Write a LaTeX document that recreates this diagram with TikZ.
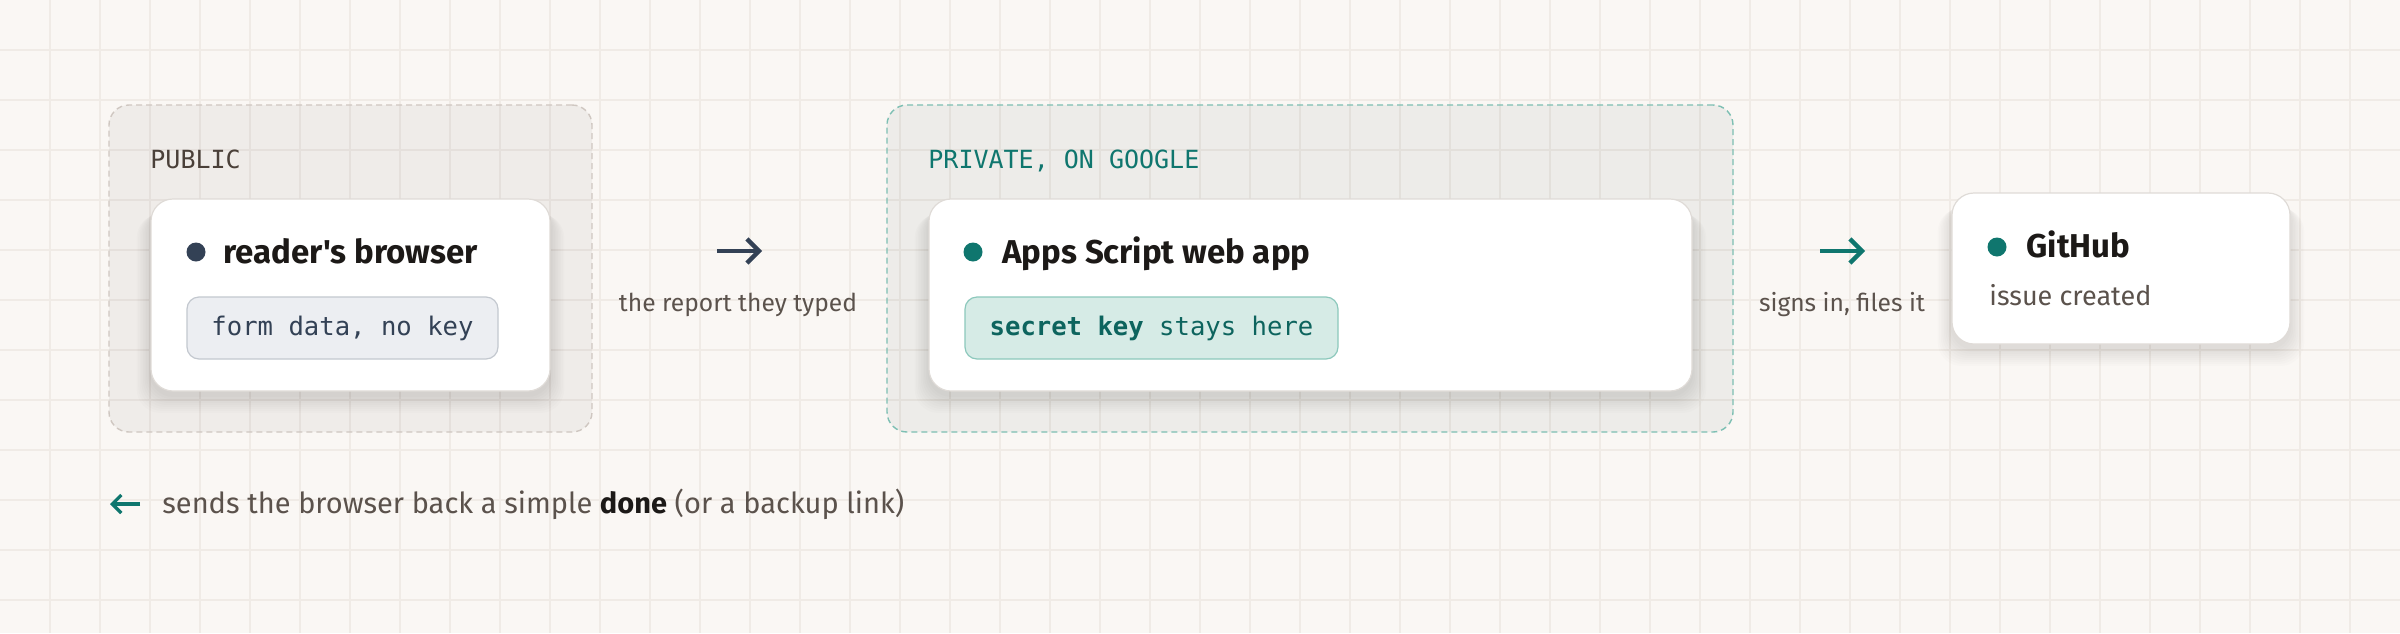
\documentclass[tikz,border=0pt]{standalone}
\usepackage{fontspec}
\setmainfont{Fira Sans}[Ligatures=TeXOff]
\setmonofont{DejaVu Sans Mono}
\usetikzlibrary{arrows.meta}
\definecolor{bg}{HTML}{FAF7F4}
\definecolor{gridc}{HTML}{F0EBE6}
\definecolor{ink}{HTML}{1C1917}
\definecolor{muted}{HTML}{5B524C}
\definecolor{pubtxt}{HTML}{4A4039}
\definecolor{teal}{HTML}{0F766E}
\definecolor{slate}{HTML}{334155}
\definecolor{publine}{HTML}{CFC7C1}
\definecolor{privline}{HTML}{7DBFB3}
\definecolor{cardline}{HTML}{DFDBD7}
\definecolor{formfill}{HTML}{ECEEF2}
\definecolor{formline}{HTML}{C3C8CF}
\definecolor{secfill}{HTML}{D6EBE6}
\definecolor{secline}{HTML}{8CC8BC}
\tikzset{
  groupbox/.style={rounded corners=10pt, line width=0.7pt, dash pattern=on 3pt off 2pt, inner sep=0pt},
  cardbox/.style={rounded corners=11pt, fill=white, draw=cardline, line width=0.6pt, inner sep=0pt},
  shadowlayer/.style={black, opacity=0.011, rounded corners=12pt},
  pillbox/.style={rounded corners=6pt, line width=0.6pt, inner sep=0pt, minimum height=31pt, font=\ttfamily\fontsize{12.8}{15}\selectfont},
  dot/.style={circle, inner sep=0pt, minimum size=9.5pt},
  titletxt/.style={anchor=base west, inner sep=0pt, text=ink, font=\fontsize{16.5}{19}\selectfont\bfseries},
  grouplabel/.style={anchor=base west, inner sep=0pt, font=\ttfamily\fontsize{12.5}{15}\selectfont},
  smalltxt/.style={inner sep=0pt, text=muted, font=\fontsize{12.3}{14}\selectfont},
  flowarrow/.style={line width=2.2pt, -{Straight Barb[length=6pt, width=12pt, line width=2.2pt]}}
}
\newcommand{\softshadow}[4]{%
  \foreach \k in {1,...,9}{
    \fill[shadowlayer] ({#1-#3/2-\k*1.6},{#2-#4/2+6+\k*1.0}) rectangle ({#1+#3/2+\k*1.6},{#2+#4/2+4+\k*2.0});
  }}
\begin{document}
\begin{tikzpicture}[x=0.5pt,y=-0.5pt]
\fill[bg] (0,0) rectangle (2400,633);
\useasboundingbox (0,0) rectangle (2400,633);
\foreach \i in {1,...,47} \draw[gridc, line width=0.7pt] (\i*50,0) -- (\i*50,633);
\foreach \j in {1,...,12} \draw[gridc, line width=0.7pt] (0,\j*50) -- (2400,\j*50);

% groups
\node[groupbox, draw=publine, fill=black, fill opacity=0.045, draw opacity=1, minimum width=241.5pt, minimum height=163.5pt] (pub) at (350.5,268.5) {};
\node[groupbox, draw=privline, fill=teal!30!black, fill opacity=0.05, draw opacity=1, minimum width=423pt, minimum height=163.5pt] (priv) at (1310,268.5) {};
\node[grouplabel, text=pubtxt] (publbl) at (150,168) {PUBLIC};
\node[grouplabel, text=teal] (privlbl) at (928,168) {PRIVATE, ON GOOGLE};

% cards
\softshadow{350.5}{295}{399}{192}
\node[cardbox, minimum width=199.5pt, minimum height=96pt] (browser) at (350.5,295) {};
\softshadow{1310.5}{295}{763}{192}
\node[cardbox, minimum width=381.5pt, minimum height=96pt] (app) at (1310.5,295) {};
\softshadow{2121}{268.5}{338}{151}
\node[cardbox, minimum width=169pt, minimum height=75.5pt] (gh) at (2121,268.5) {};

% dots + titles
\node[dot, fill=slate] (d1) at (196,252) {};
\node[titletxt] (t1) at (223,263) {reader's browser};
\node[dot, fill=teal] (d2) at (973,252) {};
\node[titletxt] (t2) at (1002,263) {Apps Script web app};
\node[dot, fill=teal] (d3) at (1997,247) {};
\node[titletxt] (t3) at (2026,257) {GitHub};
\node[anchor=base west, inner sep=0pt, text=muted, font=\fontsize{13.5}{16}\selectfont] (issue) at (1989,305) {issue created};

% pills
\node[pillbox, fill=formfill, draw=formline, text=slate, minimum width=155.5pt] (form) at (342.5,328) {form data, no key};
\node[pillbox, fill=secfill, draw=secline, text=teal!85!black, minimum width=186.5pt] (secret) at (1151.5,328) {\textbf{secret key} stays here};

% arrows
\coordinate (a1s) at (717,251); \coordinate (a1e) at (762,251);
\draw[flowarrow, slate] (a1s) -- (a1e);
\node[smalltxt, anchor=base] (l1) at (738,311) {the report they typed};
\coordinate (a2s) at (1820,251); \coordinate (a2e) at (1865,251);
\draw[flowarrow, teal] (a2s) -- (a2e);
\node[smalltxt, anchor=base] (l2) at (1842,311) {signs in, files it};

% return note
\coordinate (rs) at (140,504); \coordinate (re) at (110,504);
\draw[teal, line width=1.6pt, -{Straight Barb[length=4.5pt, width=9pt, line width=1.6pt]}] (rs) -- (re);
\node[anchor=base west, inner sep=0pt, text=muted, font=\fontsize{14.5}{17}\selectfont] (ret) at (162,513) {sends the browser back a simple \textcolor{ink}{\textbf{done}} (or a backup link)};
\end{tikzpicture}
\end{document}
